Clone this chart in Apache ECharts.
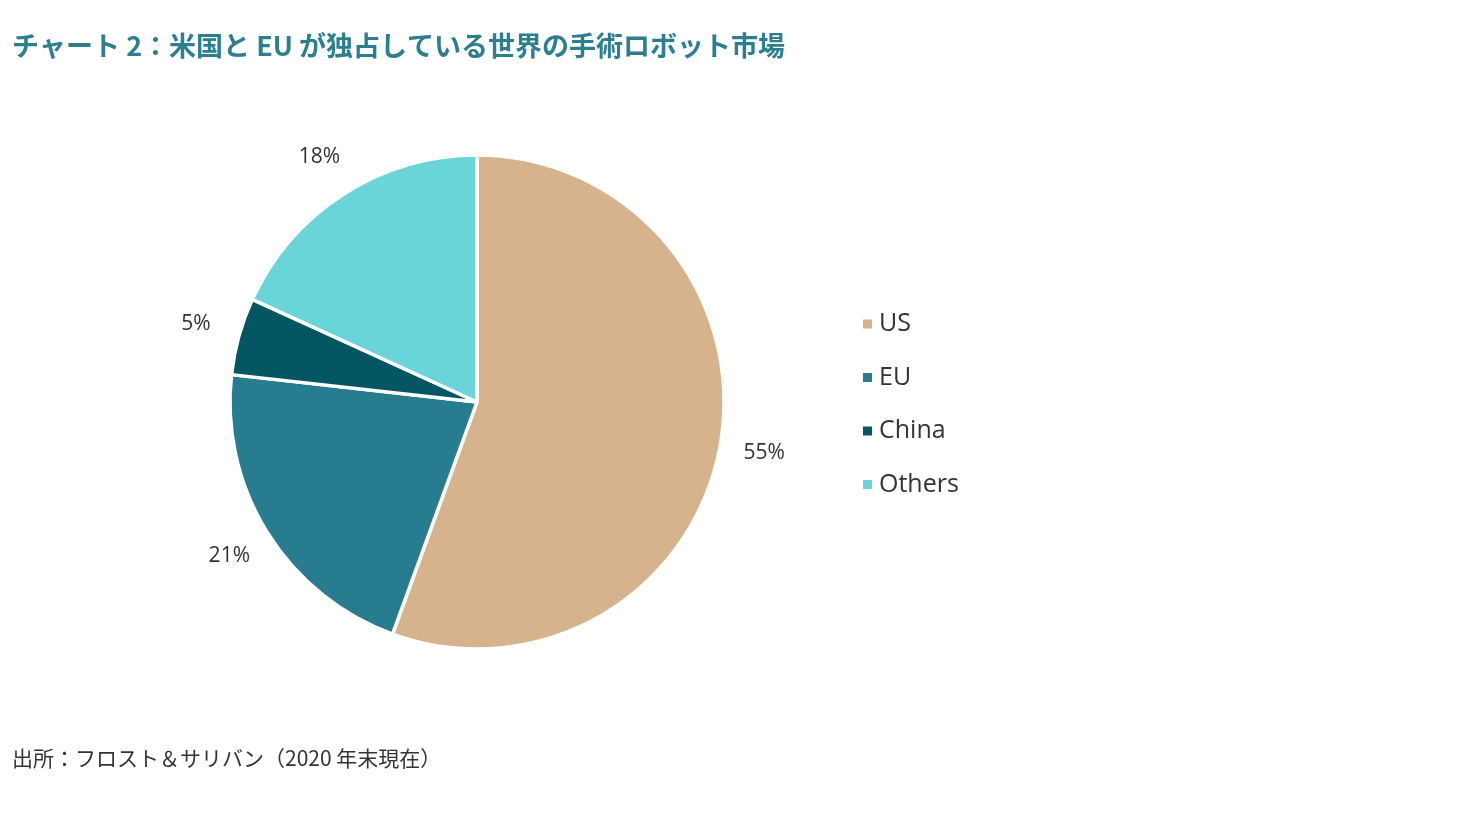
<!DOCTYPE html>
<html>
<head>
<meta charset="utf-8">
<script src="https://cdn.jsdelivr.net/npm/echarts@6/dist/echarts.min.js"></script>
<style>
html,body{margin:0;padding:0;background:#fff;}
#chart{width:1477px;height:813px;}
</style>
</head>
<body>
<div id="chart"></div>
<script>
const categories = ['US', 'EU', 'China', 'Others'];
const values = [55, 21, 5, 18];
const colors = ['#D6B38C', '#277D8F', '#055663', '#69D5D8'];
const titleText = 'チャート 2：米国と EU が独占している世界の手術ロボット市場';
const sourceText = '出所：フロスト＆サリバン（2020 年末現在）';

const data = categories.map((c, i) => ({ name: c, value: values[i] }));

const chart = echarts.init(document.getElementById('chart'), null, { renderer: 'canvas' });
chart.setOption({
  backgroundColor: '#ffffff',
  animation: false,
  color: colors,
  title: [
    {
      text: titleText,
      left: 7, top: 27,
      textStyle: { fontFamily: 'Noto Sans CJK JP', fontWeight: 'bold', fontSize: 27, color: '#2B7F8F' }
    },
    {
      text: sourceText,
      left: 7, top: 743,
      textStyle: { fontFamily: 'Noto Sans CJK JP', fontWeight: 'normal', fontSize: 21, color: '#333333' }
    }
  ],
  legend: {
    orient: 'vertical',
    left: 856, top: 304,
    icon: 'rect',
    itemWidth: 11, itemHeight: 11,
    itemGap: 23.5,
    data: categories,
    textStyle: { fontFamily: 'Open Sans', fontSize: 25, color: '#333333', lineHeight: 30, padding: [0, 0, 0, 1] }
  },
  series: [
    {
      type: 'pie',
      center: [477, 402],
      radius: [0, 247],
      startAngle: 90,
      clockwise: true,
      silent: true,
      itemStyle: { borderColor: '#ffffff', borderWidth: 3.5 },
      label: { show: false },
      labelLine: { show: false },
      data: data
    },
    {
      type: 'pie',
      center: [477, 402],
      radius: [247, 330],
      startAngle: 90,
      clockwise: true,
      silent: true,
      legendHoverLink: false,
      itemStyle: { color: 'rgba(0,0,0,0)' },
      label: {
        show: true,
        position: 'inside',
        formatter: '{c}%',
        fontFamily: 'Open Sans',
        fontSize: 21,
        color: '#333333'
      },
      labelLine: { show: false },
      data: data
    }
  ]
});
</script>
</body>
</html>
